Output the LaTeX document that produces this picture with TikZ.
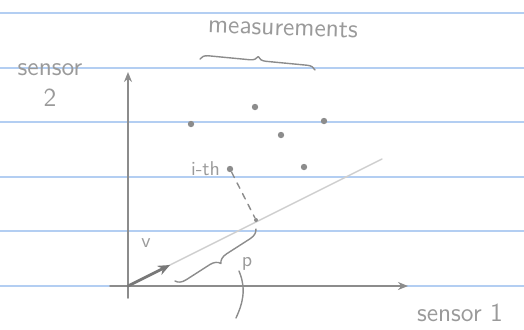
\documentclass[tikz,border=0pt]{standalone}
\usepackage{xcolor}
\usetikzlibrary{arrows.meta,decorations.pathreplacing,positioning,calc}
\definecolor{ruling}     {HTML}{B3CEF2}
\definecolor{pencil}     {HTML}{8C8C8C}
\definecolor{pencildark} {HTML}{787878}
\definecolor{pencilfaint}{HTML}{CFCFCF}
\definecolor{handtext}   {HTML}{9A9A9A}

\begin{document}
\begin{tikzpicture}[
    x=0.5pt, y=-0.5pt,
    line cap=round, line join=round,
    >={Stealth[length=5pt, width=4pt]},
    %% --- semantic styles ---
    rulingline/.style = {draw=ruling, line width=0.8pt},
    axisline/.style   = {->, draw=pencil, line width=0.8pt},
    projline/.style   = {draw=pencilfaint, line width=0.7pt},
    vecline/.style    = {->, draw=pencildark, line width=1.4pt},
    dropline/.style   = {draw=pencil, line width=0.7pt,
                         dash pattern=on 3pt off 3pt},
    sample/.style     = {circle, fill=pencil, inner sep=0pt,
                         minimum size=3.2pt},
    footdot/.style    = {circle, fill=pencil, inner sep=0pt,
                         minimum size=2pt},
    bracemark/.style  = {draw=pencil, line width=0.7pt,
                         decorate, decoration={brace, amplitude=#1}},
    hand/.style       = {font=\sffamily\fontsize{13}{15}\selectfont,
                         text=handtext, inner sep=0pt},
    handsmall/.style  = {font=\sffamily\fontsize{10}{12}\selectfont,
                         text=handtext, inner sep=0pt}
]
\useasboundingbox (0,0) rectangle (524,329);

%% =====================================================
%% Lined paper
%% =====================================================
\foreach \y in {13, 68, 122, 177, 231, 286}
    \draw[rulingline] (0,\y) -- (524,\y);

%% =====================================================
%% Axes
%% =====================================================
\coordinate (O)     at (128, 286);
\coordinate (yfoot) at (128, 298);
\coordinate (ytip)  at (128,  72);
\coordinate (xfoot) at (110, 286);
\coordinate (xtip)  at (408, 286);
\draw[axisline] (yfoot) -- (ytip);
\draw[axisline] (xfoot) -- (xtip);

\node[hand] (S2a) at (50, 70) {sensor};
\node[hand] (S2b) at (50, 98) {2};
\node[hand] (S1)  at (460, 313) {sensor 1};

%% =====================================================
%% Direction v and its line
%% =====================================================
\coordinate (Lend) at (382, 159);
\coordinate (V)    at (170, 265);
\draw[projline] (O) -- (Lend);
\draw[vecline, >={Stealth[length=6pt, width=5pt]}] (O) -- (V);
\node[handsmall] (vlab) at (146, 243) {v};

%% =====================================================
%% Measurements
%% =====================================================
\node[sample] (m1) at (191, 124) {};
\node[sample] (m2) at (255, 107) {};
\node[sample] (m3) at (324, 121) {};
\node[sample] (m4) at (281, 135) {};
\node[sample] (m5) at (304, 167) {};
\node[sample] (mi) at (230, 169) {};
\node[handsmall, left=3pt of mi] (ilab) {i-th};

\draw[bracemark=4pt] (200, 59) -- (315, 70);
\node[hand, rotate=-2] (mlab) at (283, 28) {measurements};

%% =====================================================
%% Projection of the i-th measurement
%% =====================================================
\node[footdot] (P) at (256, 220) {};
\draw[dropline] (mi) -- (P);

\draw[bracemark=5pt, decoration={mirror}] (175, 281) -- (256, 229);
\draw[draw=pencil, line width=0.7pt]
    (239, 271) .. controls (247, 290) and (242, 305) .. (236, 318);
\node[handsmall] (plab) at (247, 264) {p};

\end{tikzpicture}
\end{document}
